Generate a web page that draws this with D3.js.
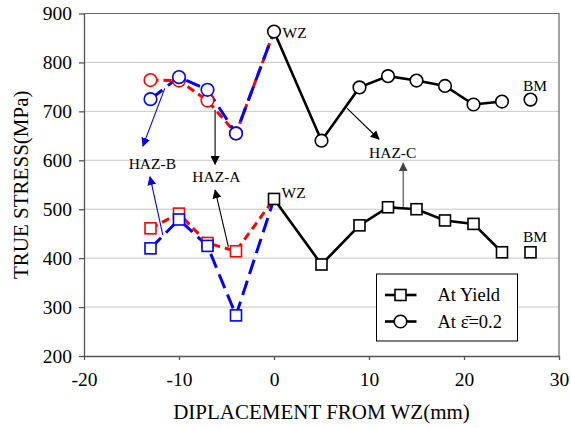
<!DOCTYPE html>
<html>
<head>
<meta charset="utf-8">
<script src="https://cdn.jsdelivr.net/npm/d3@7"></script>
<style>
  body { margin: 0; background: #fff; }
</style>
</head>
<body>
<script>
// displacement from weld zone (mm)
const xLeft = [-13, -10, -7, -4, 0];
const xRight = [0, 5, 9, 12, 15, 18, 21, 24];
const xBM = 27;

// true stress (MPa)
const yieldRed = [461, 491, 431, 414, 521];
const yieldBlue = [420, 479, 425, 283, 521];
const yieldBlack = [521, 387, 467, 504, 500, 477, 470, 412];
const yieldBM = 412;

const strainRed = [764, 763, 722, 655, 863];
const strainBlue = [725, 770, 744, 655, 863];
const strainBlack = [863, 640, 749, 772, 763, 752, 714, 720];
const strainBM = 724;

const xTicks = [-20, -10, 0, 10, 20, 30];
const yTicks = [200, 300, 400, 500, 600, 700, 800, 900];

// annotation text, anchored in data units
const labels = [
  { text: 'WZ', x: 0.9, y: 849 },
  { text: 'WZ', x: 0.8, y: 523 },
  { text: 'BM', x: 26.2, y: 742 },
  { text: 'BM', x: 26.2, y: 434 },
  { text: 'HAZ-B', x: -15.3, y: 582 },
  { text: 'HAZ-A', x: -8.6, y: 555 },
  { text: 'HAZ-C', x: 10.0, y: 604 },
];

const arrows = [
  { x1: -11.5, y1: 747, x2: -13.8, y2: 629, color: 'blue' },
  { x1: -11.7, y1: 447, x2: -13.05, y2: 566, color: 'blue' },
  { x1: -6.2, y1: 703, x2: -6.2, y2: 592, color: 'black' },
  { x1: -4.8, y1: 423, x2: -6.2, y2: 539, color: 'black' },
  { x1: 7.7, y1: 706, x2: 11.05, y2: 643, color: 'black' },
  { x1: 13.6, y1: 505, x2: 13.6, y2: 594, color: '#444' },
];

const width = 571;
const height = 428;
const margin = { top: 13.5, right: 12, bottom: 72, left: 84 };
const serif = "'Liberation Serif', Tinos, 'Times New Roman', Times, 'DejaVu Serif', serif";

const svg = d3.select('body').append('svg').attr('width', width).attr('height', height);

const xScale = d3.scaleLinear().domain([-20, 30]).range([margin.left, width - margin.right]);
const yScale = d3.scaleLinear().domain([200, 900]).range([height - margin.bottom, margin.top]);

const defs = svg.append('defs');
['blue', 'black', '#444'].forEach((c, i) => {
  defs
    .append('marker')
    .attr('id', 'arrow' + i)
    .attr('viewBox', '0 0 10 10')
    .attr('refX', 9)
    .attr('refY', 5)
    .attr('markerWidth', 9)
    .attr('markerHeight', 9)
    .attr('markerUnits', 'userSpaceOnUse')
    .attr('orient', 'auto')
    .append('path')
    .attr('d', 'M0,0 L10,5 L0,10 Z')
    .attr('fill', c);
});
const arrowId = { blue: 'arrow0', black: 'arrow1', '#444': 'arrow2' };

// grid
svg
  .append('g')
  .selectAll('line')
  .data(yTicks.slice(1, -1))
  .enter()
  .append('line')
  .attr('x1', xScale(-20))
  .attr('x2', xScale(30))
  .attr('y1', d => yScale(d))
  .attr('y2', d => yScale(d))
  .attr('stroke', '#c8c8c8')
  .attr('stroke-width', 1);

// frame (top + right)
svg
  .append('path')
  .attr('d', `M${xScale(-20)},${yScale(900)} H${xScale(30)} V${yScale(200)}`)
  .attr('fill', 'none')
  .attr('stroke', '#666')
  .attr('stroke-width', 1.2);

const xAxis = d3.axisBottom(xScale).tickValues(xTicks).tickFormat(d => String(d)).tickSize(4).tickSizeOuter(0).tickPadding(12);
const yAxis = d3.axisLeft(yScale).tickValues(yTicks).tickFormat(d => String(d)).tickSize(5).tickSizeOuter(0).tickPadding(7);

const gx = svg.append('g').attr('transform', `translate(0,${yScale(200)})`).call(xAxis);
const gy = svg.append('g').attr('transform', `translate(${xScale(-20)},0)`).call(yAxis);
[gx, gy].forEach(g => {
  g.attr('font-family', serif).attr('font-size', 19.5);
  g.selectAll('path,line').attr('stroke', '#555').attr('stroke-width', 1.3);
  g.selectAll('text').attr('fill', '#000');
});

svg
  .append('text')
  .attr('x', (xScale(-20) + xScale(30)) / 2)
  .attr('y', 419)
  .attr('text-anchor', 'middle')
  .attr('font-family', serif)
  .attr('font-size', 21)
  .text('DIPLACEMENT FROM WZ(mm)');

svg
  .append('text')
  .attr('transform', `translate(28,${(yScale(200) + yScale(900)) / 2}) rotate(-90)`)
  .attr('text-anchor', 'middle')
  .attr('font-family', serif)
  .attr('font-size', 21)
  .text('TRUE STRESS(MPa)');

// arrows
svg
  .append('g')
  .selectAll('line')
  .data(arrows)
  .enter()
  .append('line')
  .attr('x1', d => xScale(d.x1))
  .attr('y1', d => yScale(d.y1))
  .attr('x2', d => xScale(d.x2))
  .attr('y2', d => yScale(d.y2))
  .attr('stroke', d => d.color)
  .attr('stroke-width', 1.1)
  .attr('marker-end', d => `url(#${arrowId[d.color]})`);

const line = d3.line().x(d => xScale(d[0])).y(d => yScale(d[1]));
const zip = (xs, ys) => xs.map((x, i) => [x, ys[i]]);

function drawSeries(points, color, dash, width) {
  svg
    .append('path')
    .datum(points)
    .attr('d', line)
    .attr('fill', 'none')
    .attr('stroke', color)
    .attr('stroke-width', width)
    .attr('stroke-dasharray', dash);
}

function drawSquares(points, color) {
  svg
    .append('g')
    .selectAll('rect')
    .data(points)
    .enter()
    .append('rect')
    .attr('x', d => xScale(d[0]) - 5.5)
    .attr('y', d => yScale(d[1]) - 5.5)
    .attr('width', 11)
    .attr('height', 11)
    .attr('fill', '#fff')
    .attr('stroke', color)
    .attr('stroke-width', 1.6);
}

function drawCircles(points, color) {
  svg
    .append('g')
    .selectAll('circle')
    .data(points)
    .enter()
    .append('circle')
    .attr('cx', d => xScale(d[0]))
    .attr('cy', d => yScale(d[1]))
    .attr('r', 6.3)
    .attr('fill', '#fff')
    .attr('stroke', color)
    .attr('stroke-width', 1.6);
}

drawSeries(zip(xRight, strainBlack), '#000', null, 2.6);
drawSeries(zip(xRight, yieldBlack), '#000', null, 2.6);
drawSeries(zip(xLeft, strainRed), 'red', '8,5', 3);
drawSeries(zip(xLeft, yieldRed), 'red', '8,5', 3);
drawSeries(zip(xLeft, strainBlue), 'blue', '15,7', 3);
drawSeries(zip(xLeft, yieldBlue), 'blue', '15,7', 3);

drawCircles(zip(xLeft, strainRed).slice(0, 4), 'red');
drawSquares(zip(xLeft, yieldRed).slice(0, 4), 'red');
drawCircles(zip(xLeft, strainBlue).slice(0, 4), 'blue');
drawSquares(zip(xLeft, yieldBlue).slice(0, 4), 'blue');
drawCircles(zip(xRight, strainBlack).concat([[xBM, strainBM]]), '#000');
drawSquares(zip(xRight, yieldBlack).concat([[xBM, yieldBM]]), '#000');

svg
  .append('g')
  .selectAll('text')
  .data(labels)
  .enter()
  .append('text')
  .attr('x', d => xScale(d.x))
  .attr('y', d => yScale(d.y))
  .attr('font-family', serif)
  .attr('font-size', 15.5)
  .text(d => d.text);

// legend
const legend = svg.append('g').attr('transform', 'translate(376.5,274)');
legend.append('rect').attr('width', 141).attr('height', 67).attr('fill', '#fff').attr('stroke', '#000').attr('stroke-width', 1);
const rows = [
  { label: 'At Yield', shape: 'square', y: 21 },
  { label: 'At ε̄=0.2', shape: 'circle', y: 47.5 },
];
rows.forEach(r => {
  legend.append('line').attr('x1', 8.5).attr('x2', 40).attr('y1', r.y).attr('y2', r.y).attr('stroke', '#000').attr('stroke-width', 2.6);
  if (r.shape === 'square') {
    legend.append('rect').attr('x', 18.5).attr('y', r.y - 5.5).attr('width', 11).attr('height', 11).attr('fill', '#fff').attr('stroke', '#000').attr('stroke-width', 1.6);
  } else {
    legend.append('circle').attr('cx', 24).attr('cy', r.y).attr('r', 6.3).attr('fill', '#fff').attr('stroke', '#000').attr('stroke-width', 1.6);
  }
  legend.append('text').attr('x', 61).attr('y', r.y + 6).attr('font-family', serif).attr('font-size', 18.5).text(r.label);
});
</script>
</body>
</html>
